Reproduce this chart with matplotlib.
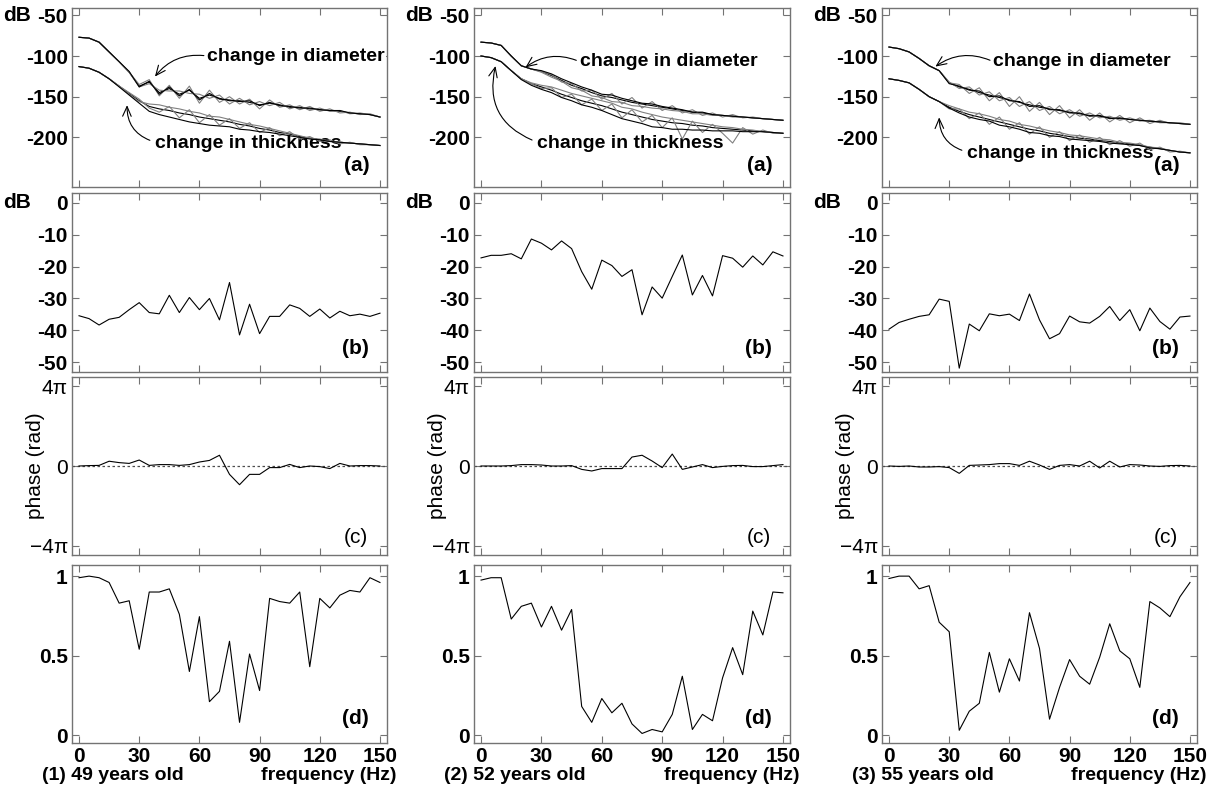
import numpy as np
import matplotlib
matplotlib.use('Agg')
import matplotlib.pyplot as plt

plt.rcParams['font.family'] = ['Liberation Sans Narrow', 'Liberation Sans', 'DejaVu Sans']

# frequency grid (Hz)
freq = np.arange(0, 151, 5)

# (a) transfer function bundles: base curve (dB) + per-line deviations
diam_base = [
    [-77, -78, -83, -95, -107, -120, -137, -132, -145, -140, -147, -142, -152, -148, -152, -155,
     -155, -157, -160, -158, -160, -163, -163, -165, -166, -167, -168, -170, -171, -172, -175],
    [-83, -84, -87, -100, -112, -116, -119, -124, -130, -136, -140, -145, -149, -151, -154, -157,
     -159, -161, -163, -165, -167, -169, -170, -172, -173, -174, -175, -176, -177, -178, -179],
    [-89, -91, -95, -103, -112, -118, -133, -138, -141, -145, -148, -151, -154, -157, -160, -163,
     -165, -167, -169, -171, -173, -174, -176, -177, -178, -179, -180, -181, -182, -183, -184],
]
thick_base = [
    [-113, -115, -120, -128, -137, -146, -155, -162, -165, -167, -170, -172, -175, -177, -179, -181,
     -184, -186, -189, -191, -194, -196, -199, -201, -203, -205, -206, -207, -208, -209, -210],
    [-100, -102, -107, -118, -128, -134, -138, -142, -147, -151, -155, -158, -161, -165, -169, -172,
     -175, -178, -180, -182, -183, -185, -186, -188, -189, -190, -191, -192, -193, -194, -195],
    [-128, -130, -133, -141, -150, -156, -163, -168, -172, -175, -178, -181, -184, -187, -190, -192,
     -195, -197, -199, -201, -202, -204, -205, -207, -208, -210, -212, -214, -216, -218, -219],
]
diam_dev = [
    [[0, 0, 0, 0, 0, 0, 2, 3, -4, 4, -5, 5, -6, 6, -5, 5, -4, 4, -5, 4, -3, 3, -3, 3, -2, 2, -2, 1, -1, 1, 0],
     [0, 0, 0, 0, 0, 0, -1, -2, 3, -3, 4, -4, 5, -4, 4, -4, 3, -3, 4, -3, 3, -2, 2, -2, 2, -1, 1, -1, 1, 0, 0],
     [0, 0, 0, 0, 0, 1, -1, 1, -2, 2, -2, 1, -2, 2, -1, 1, -1, 2, -1, 1, -1, 1, -1, 1, 0, 0, 1, 0, 0, 0, 0]],
    [[0, 0, 0, 0, 0, 0, 0, 1, -2, 2, -3, 3, -4, 5, -5, 6, -5, 5, -4, 4, -3, 3, -3, 2, -2, 2, -1, 1, 0, 0, 0],
     [0, 0, 0, 0, 0, 0, -1, -2, -1, -3, -2, -4, -2, -5, -3, -4, -3, -3, -2, -2, -1, -2, -1, -1, 0, -1, 0, 0, 0, 0, 0],
     [0, 0, 0, 0, 0, 0, 1, 2, 2, 3, 2, 3, 2, 3, 2, 2, 1, 2, 1, 1, 1, 0, 1, 0, 0, 0, 0, 0, 0, 0, 0]],
    [[0, 0, 0, 0, 0, 0, 0, 3, -5, 6, -7, 6, -8, 7, -8, 6, -7, 6, -7, 5, -6, 4, -5, 4, -4, 3, -3, 2, -1, 1, 0],
     [0, 0, 0, 0, 0, 0, 1, -2, 3, -3, 4, -4, 3, -5, 4, -4, 3, -4, 3, -3, 3, -2, 2, -2, 2, -1, 1, -1, 0, 0, 0],
     [0, 0, 0, 0, 0, 0, -1, 1, -1, 2, -2, 2, -1, 1, -2, 2, -1, 1, -1, 1, -1, 1, -1, 1, 0, 0, 0, 0, 0, 0, 0]],
]
thick_dev = [
    [[0, 0, 0, 0, 0, 1, 2, -2, -4, 5, -6, 6, -7, 5, -6, 4, -5, 4, -5, 3, -4, 3, -3, 2, -2, 2, -2, 1, -1, 0, 0],
     [0, 0, 0, 0, 0, -1, -1, 3, 5, 4, 5, 4, 5, 3, 4, 3, 3, 2, 3, 2, 2, 1, 1, 0, 1, 0, 0, 0, 0, 0, 0],
     [0, 0, 0, 0, -1, -2, -3, -6, -7, -8, -8, -9, -8, -8, -7, -6, -6, -5, -4, -3, -2, -2, -1, -1, 0, 0, 0, 0, 0, 0, 0]],
    [[0, 0, 0, 0, 0, 0, -2, 3, -4, 4, -5, 5, -6, 6, -7, 6, -6, 5, -8, 6, -19, 5, -8, 4, -6, -17, 3, -4, 2, -1, 0],
     [0, 0, 0, 0, 0, 1, 2, 4, 5, 5, 6, 6, 6, 7, 6, 7, 6, 6, 5, 5, 4, 4, 3, 3, 2, 2, 1, 1, 0, 0, 0],
     [0, 0, 0, 0, -1, -2, -3, -3, -4, -4, -5, -5, -6, -7, -8, -8, -8, -9, -8, -8, -7, -6, -5, -4, -3, -2, -2, -1, 0, 0, 0]],
    [[0, 0, 0, 0, 0, 0, -2, 3, -5, 5, -6, 6, -6, 5, -6, 5, -5, 4, -5, 4, -4, 4, -4, 3, -3, 3, -3, 2, -2, 1, 0],
     [0, 0, 0, 0, 0, 0, 2, 3, 3, 4, 4, 3, 4, 3, 4, 3, 3, 3, 2, 3, 2, 2, 2, 1, 1, 1, 0, 1, 0, 0, 0],
     [0, 0, 0, 0, 0, 0, -1, -2, -3, -3, -2, -4, -3, -3, -4, -3, -3, -2, -3, -2, -2, -1, -2, -1, -1, 0, -1, 0, 0, 0, 0]],
]

# (b) ratio in dB
ratio_db = [
    [-35.4, -36.3, -38.3, -36.5, -35.9, -33.5, -31.3, -34.4, -34.8, -29.0, -34.4, -29.7, -33.5, -30.0, -36.7, -25.0,
     -41.4, -31.8, -41.0, -35.6, -35.6, -32.0, -33.1, -35.6, -33.3, -36.1, -34.0, -35.4, -34.9, -35.6, -34.6],
    [-17.3, -16.5, -16.5, -16.0, -17.6, -11.4, -12.7, -14.8, -12.0, -14.4, -21.6, -27.1, -18.0, -19.7, -23.1, -21.0,
     -35.1, -26.4, -29.9, -23.1, -16.4, -28.9, -22.8, -29.2, -16.6, -17.4, -20.2, -16.7, -19.5, -15.4, -16.7],
    [-39.6, -37.5, -36.5, -35.6, -35.1, -30.2, -30.9, -51.8, -38.0, -40.1, -34.8, -35.4, -34.9, -36.9, -28.6, -36.7,
     -42.6, -41.0, -35.5, -37.3, -37.7, -35.6, -32.5, -36.9, -33.5, -40.1, -33.0, -37.2, -39.6, -35.8, -35.5],
]

# (c) phase, in units of pi
phase_pi = [
    [0, 0.02, 0.03, 0.24, 0.17, 0.13, 0.3, 0.03, 0.07, 0.07, 0.03, 0.07, 0.2, 0.28, 0.54, -0.42,
     -0.94, -0.42, -0.42, -0.08, -0.08, 0.08, -0.08, 0, -0.03, -0.13, 0.13, 0, 0.02, 0.02, 0],
    [0, 0, 0, 0.02, 0.07, 0.07, 0.05, 0, 0, 0.02, -0.17, -0.25, -0.13, -0.13, -0.13, 0.45,
     0.54, 0.25, -0.08, 0.6, -0.17, -0.05, 0.07, -0.08, -0.02, 0.02, 0.03, -0.03, -0.03, 0.02, 0.07],
    [0, -0.02, 0, -0.05, -0.05, -0.03, -0.08, -0.37, 0.03, 0.05, 0.07, 0.12, 0.12, 0.03, 0.24, 0.05,
     -0.17, 0.03, 0.07, 0, 0.24, -0.1, 0.24, -0.05, 0.07, 0.05, 0, -0.02, 0.02, 0.03, 0],
]

# (d) coherence
coherence = [
    [0.99, 1.0, 0.99, 0.96, 0.83, 0.845, 0.54, 0.90, 0.90, 0.92, 0.76, 0.40, 0.745, 0.21, 0.275, 0.59,
     0.08, 0.51, 0.28, 0.86, 0.84, 0.83, 0.90, 0.43, 0.86, 0.80, 0.88, 0.91, 0.90, 0.99, 0.96],
    [0.975, 0.99, 0.99, 0.73, 0.81, 0.83, 0.68, 0.81, 0.66, 0.79, 0.18, 0.08, 0.23, 0.14, 0.20, 0.07,
     0.01, 0.035, 0.02, 0.13, 0.37, 0.035, 0.13, 0.09, 0.36, 0.55, 0.38, 0.78, 0.63, 0.90, 0.895],
    [0.985, 1.0, 1.0, 0.92, 0.94, 0.71, 0.65, 0.03, 0.15, 0.20, 0.52, 0.27, 0.48, 0.34, 0.77, 0.545,
     0.10, 0.30, 0.475, 0.37, 0.32, 0.49, 0.70, 0.53, 0.48, 0.30, 0.84, 0.80, 0.745, 0.87, 0.96],
]

subjects = ['(1) 49 years old', '(2) 52 years old', '(3) 55 years old']

# annotation placements per column: (text xy, arrow target, arc rad)
diam_note = [((64, -100), (37, -128), 0.3), ((49, -107), (21, -116), 0.3), ((52, -107), (22, -115), 0.3)]
thick_note = [((38, -208), (24, -157), -0.4), ((28, -208), (7.5, -109), -0.45), ((39, -220), (25, -172), -0.4)]

W, H = 1219, 794
fig = plt.figure(figsize=(W / 100, H / 100), dpi=100)

col_left = [72, 474, 882]
col_w = [315, 316, 315]
rows = [(8, 187), (193, 372), (377, 555), (565, 743)]

FS = 15
FS_NOTE = 14
frame_col = '0.45'
lw = 0.8


def make_ax(c, r):
    top, bot = rows[r]
    ax = fig.add_axes([col_left[c] / W, 1 - bot / H, col_w[c] / W, (bot - top) / H])
    ax.set_xlim(-3.5, 153.5)
    ax.set_xticks(np.arange(0, 151, 30))
    ax.tick_params(direction='in', top=True, right=True, length=5, width=0.8,
                   color=frame_col, labelsize=FS, pad=3)
    for s in ax.spines.values():
        s.set_color(frame_col)
        s.set_linewidth(1.0)
    if r < 3:
        ax.set_xticklabels([])
    else:
        ax.set_xticklabels([str(v) for v in range(0, 151, 30)], fontweight='bold')
    return ax


arrow_kw = dict(arrowstyle='->,head_length=0.5,head_width=0.22', color='black', lw=0.8)

for c in range(3):
    # (a)
    ax = make_ax(c, 0)
    line_cols = ['black', '0.5', '0.5', 'black']
    for base, devs in ((diam_base[c], diam_dev[c]), (thick_base[c], thick_dev[c])):
        base = np.array(base, dtype=float)
        ax.plot(freq, base, color='black', lw=lw)
        for k, d in enumerate(devs):
            ax.plot(freq, base + np.array(d), color=line_cols[k + 1], lw=lw)
    ax.set_ylim(-261, -41)
    ax.set_yticks([-50, -100, -150, -200])
    ax.set_yticklabels(['-50', '-100', '-150', '-200'], fontweight='bold')
    ax.text(-0.175, -50, 'dB', transform=ax.get_yaxis_transform(), ha='center', va='center',
            fontsize=FS, fontweight='bold')
    (tx, ty), tgt, rad = diam_note[c]
    ax.annotate('change in diameter', xy=tgt, xytext=(tx, ty), fontsize=FS_NOTE, fontweight='bold',
                ha='left', va='center', annotation_clip=False, zorder=5,
                bbox=dict(facecolor='white', edgecolor='none', pad=0.5),
                arrowprops=dict(connectionstyle='arc3,rad=%s' % rad, relpos=(0, 0.5), **arrow_kw))
    (tx, ty), tgt, rad = thick_note[c]
    ax.annotate('change in thickness', xy=tgt, xytext=(tx, ty), fontsize=FS_NOTE, fontweight='bold',
                ha='left', va='center', annotation_clip=False, zorder=1,
                arrowprops=dict(connectionstyle='arc3,rad=%s' % rad, relpos=(0, 0.6), **arrow_kw))
    ax.text(0.905, 0.12, '(a)', transform=ax.transAxes, ha='center', va='center',
            fontsize=FS, fontweight='bold')

    # (b)
    ax = make_ax(c, 1)
    ax.plot(freq, ratio_db[c], color='black', lw=lw)
    ax.set_ylim(-53, 3)
    ax.set_yticks([0, -10, -20, -30, -40, -50])
    ax.set_yticklabels(['0', '-10', '-20', '-30', '-40', '-50'], fontweight='bold')
    ax.text(-0.175, 0, 'dB', transform=ax.get_yaxis_transform(), ha='center', va='center',
            fontsize=FS, fontweight='bold')
    ax.text(0.9, 0.13, '(b)', transform=ax.transAxes, ha='center', va='center',
            fontsize=FS, fontweight='bold')

    # (c)
    ax = make_ax(c, 2)
    ax.axhline(0, color='0.3', lw=0.9, ls=(0, (2, 2)))
    ax.plot(freq, np.array(phase_pi[c]) * np.pi, color='black', lw=lw)
    ax.set_ylim(-4.47 * np.pi, 4.47 * np.pi)
    ax.set_yticks([-4 * np.pi, 0, 4 * np.pi])
    ax.set_yticklabels(['\u22124\u03c0', '0', '4\u03c0'])
    ax.text(-0.115, 0.5, 'phase (rad)', transform=ax.transAxes, rotation=90, ha='center',
            va='center', fontsize=FS)
    ax.text(0.9, 0.10, '(c)', transform=ax.transAxes, ha='center', va='center', fontsize=FS)

    # (d)
    ax = make_ax(c, 3)
    ax.plot(freq, coherence[c], color='black', lw=lw)
    ax.set_ylim(-0.05, 1.07)
    ax.set_yticks([0, 0.5, 1])
    ax.set_yticklabels(['0', '0.5', '1'], fontweight='bold')
    ax.text(0.9, 0.135, '(d)', transform=ax.transAxes, ha='center', va='center',
            fontsize=FS, fontweight='bold')
    ax.text(-0.095, -0.185, subjects[c], transform=ax.transAxes, ha='left', va='center',
            fontsize=FS_NOTE, fontweight='bold')
    ax.text(1.03, -0.185, 'frequency (Hz)', transform=ax.transAxes, ha='right', va='center',
            fontsize=FS_NOTE, fontweight='bold')

fig.savefig('out.png', dpi=100)
